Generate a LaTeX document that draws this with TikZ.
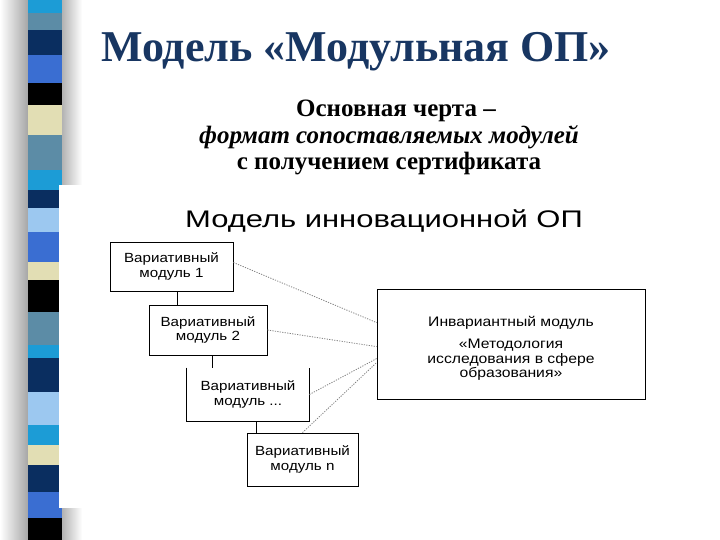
\documentclass[tikz,border=0pt]{standalone}
\usepackage{fontspec}
\setmainfont{Liberation Serif}
\setsansfont{Liberation Sans}
\usepackage{graphicx}
\definecolor{tnavy}{RGB}{24,54,98}
\definecolor{scyan}{RGB}{28,156,214}
\definecolor{ssteel}{RGB}{92,140,166}
\definecolor{snavy}{RGB}{10,46,96}
\definecolor{sroyal}{RGB}{58,110,210}
\definecolor{slight}{RGB}{156,200,240}
\definecolor{sbeige}{RGB}{226,222,180}
\newcommand{\sx}[1]{\scalebox{1.14}[1]{#1}}
\newcommand{\sxh}[1]{\scalebox{1.29}[1]{#1}}
\tikzset{
  modbox/.style={draw=black,line width=0.8pt,fill=white,inner sep=0pt,align=center,
    font=\sffamily\fontsize{13.3}{14.5}\selectfont},
  bigtext/.style={font=\sffamily\fontsize{13.8}{14.6}\selectfont,align=center},
  subtext/.style={anchor=base,font=\bfseries\fontsize{25}{27}\selectfont},
  dotline/.style={gray,line width=0.8pt,dash pattern=on 1.2pt off 1.3pt},
  solidline/.style={black,line width=0.8pt}
}
\begin{document}
\begin{tikzpicture}[x=1pt,y=-1pt]
\useasboundingbox (0,0) rectangle (720,540);
\fill[white] (0,0) rectangle (720,540);
% shadows of the stripe
\shade[left color=white,right color=gray!70] (0,0) rectangle (28,540);
\shade[left color=gray!60,right color=white] (62,0) rectangle (82,540);
% stripe squares
\foreach \a/\b/\c in {0/13/scyan,13/30/ssteel,30/55/snavy,55/83/sroyal,83/105/black,
  105/135/sbeige,135/170/ssteel,170/190/scyan,190/208/snavy,208/232/slight,
  232/262/sroyal,262/280/sbeige,280/312/black,312/345/ssteel,345/358/scyan,
  358/392/snavy,392/425/slight,425/445/scyan,445/465/sbeige,465/492/snavy,
  492/518/sroyal,518/540/black}
  \fill[\c] (28,\a) rectangle (62,\b);
% white panel of the picture
\fill[white] (59,185) rectangle (720,508);
% title and texts
\node[anchor=base,text=tnavy,font=\bfseries\fontsize{44}{48}\selectfont] (title) at (356,62) {Модель «Модульная ОП»};
\node[subtext] (s1) at (396,117) {Основная черта –};
\node[subtext,font=\bfseries\itshape\fontsize{25}{27}\selectfont] (s2) at (389,144) {формат сопоставляемых модулей};
\node[subtext] (s3) at (389,170) {с получением сертификата};
\node[anchor=base,font=\sffamily\fontsize{24}{28}\selectfont] (head) at (384,227) {\sxh{Модель инновационной ОП}};
% boxes
\node[modbox,minimum width=123pt,minimum height=49pt] (box1) at (171.5,266.5) {\sx{Вариативный}\\\sx{модуль 1}};
\node[modbox,minimum width=118pt,minimum height=50pt] (box2) at (208,330) {\sx{Вариативный}\\\sx{модуль 2}};
\node[modbox,draw=none,minimum width=122pt,minimum height=53pt] (box3) at (248,394.5) {\sx{Вариативный}\\\sx{модуль ...}};
\draw[solidline] (box3.north west) -- (box3.south west) -- (box3.south east) -- (box3.north east);
\node[modbox,minimum width=111pt,minimum height=53pt] (box4) at (302.5,459.5) {\sx{Вариативный}\\\sx{модуль n}};
\node[modbox,minimum width=268pt,minimum height=110pt] (big) at (511,344) {};
\node[bigtext,anchor=base] (bt1) at (511,326) {\sx{Инвариантный модуль}};
\node[bigtext,anchor=north] (bt2) at (511,335.5) {\sx{«Методология}\\\sx{исследования в сфере}\\\sx{образования»}};
% vertical connectors
\path (box2.north west) ++(29,0) coordinate (c12);
\path (box3.north west) ++(26,0) coordinate (c23);
\path (box4.north west) ++(10,0) coordinate (c34);
\draw[solidline] (c12) -- (c12 |- box1.south);
\draw[solidline] (c23) -- (c23 |- box2.south);
\draw[solidline] (c34) -- (c34 |- box3.south);
% dotted connectors
\path (big.north west) ++(0,34) coordinate (t1);
\path (big.north west) ++(0,58) coordinate (t2);
\path (big.north west) ++(0,70) coordinate (t3);
\path (big.north west) ++(0,74) coordinate (t4);
\path (box1.east) ++(0,-4) coordinate (f1);
\draw[dotline] (f1) -- (t1);
\draw[dotline] (box2.east) -- (t2);
\draw[dotline] (box3.east) -- (t3);
\draw[dotline] (box4.north) -- (t4);
\end{tikzpicture}
\end{document}
